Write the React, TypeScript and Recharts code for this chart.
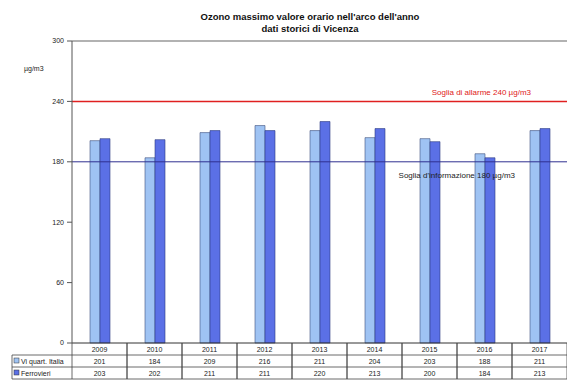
import React from 'react';
import {
  ComposedChart,
  Bar,
  XAxis,
  YAxis,
  ReferenceLine
} from 'recharts';

// ---- data ----
const years = ['2009', '2010', '2011', '2012', '2013', '2014', '2015', '2016', '2017'];
const quartItalia = [201, 184, 209, 216, 211, 204, 203, 188, 211];
const ferrovieri = [203, 202, 211, 211, 220, 213, 200, 184, 213];
const yTicks = [0, 60, 120, 180, 240, 300];

const seriesNames = ['Vi quart. Italia', 'Ferrovieri'];
const LIGHT = '#9fc3f3';
const DARK = '#5b70e6';
const FONT = '"Liberation Sans", Arial, sans-serif';

const data = years.map((year, i) => ({
  year,
  italia: quartItalia[i],
  ferrovieri: ferrovieri[i]
}));

const ROW_H = 12;
const LABEL_LEFT = 12;

// x-axis tick drawn as one column of the data table
function TableTick(props: any) {
  const { x, y, payload } = props;
  const i = payload.index ?? props.index ?? 0;
  const half = payload.offset || 27.5;
  const left = x - half;
  const right = x + half;
  const bottom = y + ROW_H * 3;
  const txt = { fontSize: 7, fontFamily: FONT, fill: '#222', textAnchor: 'middle' as const };

  return (
    <g>
      <line x1={left} y1={y} x2={left} y2={bottom} stroke="#444" strokeWidth={0.8} />
      <line x1={right} y1={y} x2={right} y2={bottom} stroke="#444" strokeWidth={0.8} />
      {[1, 2, 3].map((r) => (
        <line key={r} x1={left} y1={y + r * ROW_H} x2={right} y2={y + r * ROW_H} stroke="#444" strokeWidth={0.8} />
      ))}
      <text x={x} y={y + 9} {...txt}>{years[i]}</text>
      <text x={x} y={y + ROW_H + 9} {...txt}>{quartItalia[i]}</text>
      <text x={x} y={y + ROW_H * 2 + 9} {...txt}>{ferrovieri[i]}</text>

      {i === 0 && (
        <g>
          <line x1={LABEL_LEFT} y1={y + ROW_H} x2={LABEL_LEFT} y2={bottom} stroke="#444" strokeWidth={0.8} />
          {[1, 2, 3].map((r) => (
            <line key={r} x1={LABEL_LEFT} y1={y + r * ROW_H} x2={left} y2={y + r * ROW_H} stroke="#444" strokeWidth={0.8} />
          ))}
          {seriesNames.map((name, k) => (
            <g key={name}>
              <rect
                x={LABEL_LEFT + 2}
                y={y + ROW_H * (k + 1) + 3}
                width={5}
                height={5}
                fill={k === 0 ? LIGHT : DARK}
                stroke="#333"
                strokeWidth={0.5}
              />
              <text
                x={LABEL_LEFT + 9}
                y={y + ROW_H * (k + 1) + 9}
                fontSize={7}
                fontFamily={FONT}
                fill="#222"
              >
                {name}
              </text>
            </g>
          ))}
        </g>
      )}
    </g>
  );
}

const alarmLabel = (props: any) => {
  const { viewBox } = props;
  return (
    <text
      x={viewBox.x + viewBox.width - 36}
      y={viewBox.y - 6}
      textAnchor="end"
      fontSize={8}
      fontFamily={FONT}
      fill="#e02020"
    >
      Soglia di allarme 240 µg/m3
    </text>
  );
};

const infoLabel = (props: any) => {
  const { viewBox } = props;
  return (
    <text
      x={viewBox.x + viewBox.width - 52}
      y={viewBox.y + 16}
      textAnchor="end"
      fontSize={8}
      fontFamily={FONT}
      fill="#222"
    >
      Soglia d'informazione 180 µg/m3
    </text>
  );
};

export default function App() {
  return (
    <div style={{ position: 'absolute', left: 0, top: 0, width: 567, height: 385, background: '#fff' }}>
      <div
        style={{
          position: 'absolute',
          left: 160,
          top: 11,
          width: 300,
          textAlign: 'center',
          fontFamily: FONT,
          fontSize: 9.5,
          fontWeight: 'bold',
          lineHeight: '12px',
          color: '#111'
        }}
      >
        Ozono massimo valore orario nell'arco dell'anno
        <br />
        dati storici di Vicenza
      </div>
      <div
        style={{
          position: 'absolute',
          left: 24,
          top: 65,
          fontFamily: FONT,
          fontSize: 7,
          color: '#222'
        }}
      >
        µg/m3
      </div>

      <ComposedChart
        width={567}
        height={385}
        data={data}
        margin={{ top: 41, right: 0, bottom: 0, left: 0 }}
        barGap={0}
        barCategoryGap={0}
      >
        <XAxis
          dataKey="year"
          height={42}
          tickLine={false}
          tickSize={0}
          tickMargin={0}
          axisLine={{ stroke: '#333', strokeWidth: 1 }}
          tick={<TableTick />}
          interval={0}
        />
        <YAxis
          width={72}
          domain={[0, 300]}
          ticks={yTicks}
          interval={0}
          axisLine={{ stroke: '#555', strokeWidth: 1 }}
          tickLine={{ stroke: '#555' }}
          tickSize={5}
          tickMargin={3}
          tick={{ fontSize: 7, fontFamily: FONT, fill: '#222' }}
        />
        <ReferenceLine y={300} stroke="#999" strokeWidth={1.5} />
        <ReferenceLine y={240} stroke="#e02020" strokeWidth={1.5} label={alarmLabel} />
        <ReferenceLine y={180} stroke="#303090" strokeWidth={1} label={infoLabel} />
        <Bar
          dataKey="italia"
          name={seriesNames[0]}
          fill={LIGHT}
          stroke="#3c4f7c"
          strokeWidth={0.6}
          barSize={10}
          isAnimationActive={false}
        />
        <Bar
          dataKey="ferrovieri"
          name={seriesNames[1]}
          fill={DARK}
          stroke="#2c3a80"
          strokeWidth={0.6}
          barSize={10}
          isAnimationActive={false}
        />
      </ComposedChart>
    </div>
  );
}
